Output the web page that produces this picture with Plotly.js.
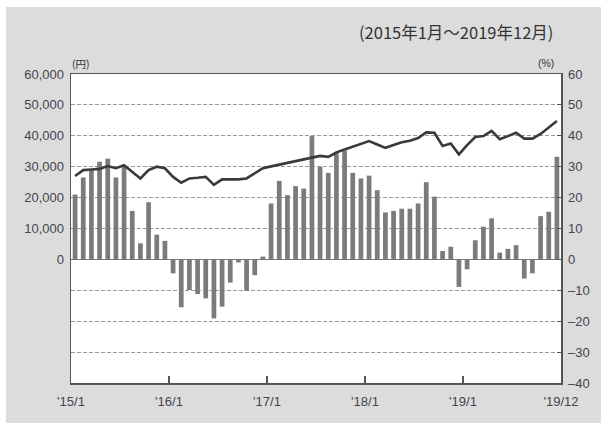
<!DOCTYPE html>
<html>
<head>
<meta charset="utf-8">
<script src="https://cdn.plot.ly/plotly-3.0.1.min.js"></script>
<style>html,body{margin:0;padding:0;background:#fff;}#chart{width:601px;height:423px;}</style>
</head>
<body>
<div id="chart"></div>
<script>
// Months 2015/1 .. 2019/12 (index 0..59)
const months = Array.from({length: 60}, (_, i) => i);
// Year-on-year change (%), bars, right axis
const changePct = [
  21.0, 26.5, 28.9, 31.6, 32.6, 26.5, 30.2, 15.7, 5.2, 18.5, 8.0, 6.0,
  -4.5, -15.5, -9.9, -11.2, -12.6, -19.1, -15.3, -7.5, -1.0, -10.2, -5.1, 0.9,
  18.1, 25.4, 20.8, 23.7, 22.9, 39.9, 30.0, 28.0, 34.3, 35.2, 28.0, 26.2,
  27.1, 22.4, 15.2, 15.7, 16.4, 16.4, 18.1, 25.0, 20.3, 2.7, 4.1, -8.9,
  -3.2, 6.2, 10.6, 13.3, 2.2, 3.4, 4.6, -6.2, -4.5, 14.0, 15.4, 33.2
];
// Amount (yen), line, left axis
const amountYen = [
  27000, 28900, 29100, 29300, 30200, 29500, 30500, 28400, 26200, 28900, 30000, 29500,
  26700, 24800, 26200, 26400, 26700, 24100, 25900, 25900, 25900, 26200, 27800, 29500,
  30100, 30700, 31300, 31800, 32400, 33000, 33500, 33200, 34600, 35600, 36500, 37300,
  38300, 37200, 36100, 37000, 37900, 38400, 39300, 41100, 41000, 36700, 37500, 34000,
  37000, 39600, 39900, 41600, 38900, 39900, 41000, 39100, 39100, 40600, 42600, 44800
];
const xTickVals = [-0.5, 11.5, 23.5, 35.5, 47.5, 59.5];
const xTickText = ["'15/1", "'16/1", "'17/1", "'18/1", "'19/1", "'19/12"];
const pctTicks = [-40, -30, -20, -10, 0, 10, 20, 30, 40, 50, 60];
const pctTickText = ["–40", "–30", "–20", "–10", "0", "10", "20", "30", "40", "50", "60"];
const yenTicks = [0, 10000, 20000, 30000, 40000, 50000, 60000];
const yenTickText = ["0", "10,000", "20,000", "30,000", "40,000", "50,000", "60,000"];

const fontFam = "'Liberation Sans', Arial, sans-serif";
const txt = '#45454f';

const traces = [
  {type: 'bar', x: months, y: changePct, yaxis: 'y', width: 0.58,
   marker: {color: '#7b7b7b', line: {width: 0}}, hoverinfo: 'skip'},
  {type: 'scatter', mode: 'lines', x: months, y: amountYen, yaxis: 'y2',
   line: {color: '#3a3a3a', width: 2.6}, hoverinfo: 'skip'}
];

const layout = {
  width: 601, height: 423,
  margin: {l: 71, r: 40, t: 74, b: 40},
  paper_bgcolor: '#dcdcdc', plot_bgcolor: '#ffffff',
  showlegend: false,
  font: {family: fontFam, size: 12, color: txt},
  xaxis: {
    range: [-0.5, 59.5], tickvals: xTickVals, ticktext: xTickText,
    ticks: 'inside', ticklen: 7, tickcolor: '#555', tickwidth: 1.2,
    showgrid: false, zeroline: false,
    showline: true, mirror: true, linecolor: '#555', linewidth: 1.5,
    tickfont: {size: 13, color: txt}, ticklabelstandoff: 6
  },
  yaxis: {
    side: 'right', range: [-40, 60], tickvals: pctTicks, ticktext: pctTickText,
    ticks: 'inside', ticklen: 4, tickcolor: '#555',
    showgrid: true, gridcolor: '#9a9a9a', gridwidth: 1, griddash: '4px,2px',
    zeroline: true, zerolinecolor: '#777', zerolinewidth: 1.2,
    showline: true, mirror: true, linecolor: '#555', linewidth: 1.5,
    tickfont: {size: 13, color: txt}, ticklabelstandoff: 3
  },
  yaxis2: {
    overlaying: 'y', side: 'left', range: [-40000, 60000],
    tickvals: yenTicks, ticktext: yenTickText,
    showgrid: false, zeroline: false, showline: false, ticks: '',
    tickfont: {size: 13, color: txt}, ticklabelstandoff: 6
  },
  shapes: [
    {type: 'rect', xref: 'paper', yref: 'paper', x0: -0.2, x1: 1.2, y0: (383 - 7) / 309, y1: 1.3,
     fillcolor: '#ffffff', line: {width: 0}, layer: 'below'},
    {type: 'rect', xref: 'paper', yref: 'paper', x0: -0.2, x1: (6 - 71) / 490, y0: -0.2, y1: 1.3,
     fillcolor: '#ffffff', line: {width: 0}, layer: 'below'}
  ],
  annotations: [
    {text: '(2015年1月～2019年12月)', xref: 'paper', yref: 'paper',
     x: (456 - 71) / 490, y: (383 - 32) / 309, xanchor: 'center', yanchor: 'middle',
     showarrow: false, font: {family: "'Noto Sans CJK JP', sans-serif", size: 16.5, color: '#333'}},
    {text: '(円)', xref: 'paper', yref: 'paper',
     x: (81 - 71) / 490, y: (383 - 64) / 309, xanchor: 'center', yanchor: 'middle',
     showarrow: false, font: {family: "'Noto Sans CJK JP', sans-serif", size: 10.5, color: '#333'}},
    {text: '(%)', xref: 'paper', yref: 'paper',
     x: (546 - 71) / 490, y: (383 - 63) / 309, xanchor: 'center', yanchor: 'middle',
     showarrow: false, font: {family: fontFam, size: 10.5, color: '#333'}}
  ]
};

Plotly.newPlot('chart', traces, layout, {displayModeBar: false, staticPlot: true});
</script>
</body>
</html>
